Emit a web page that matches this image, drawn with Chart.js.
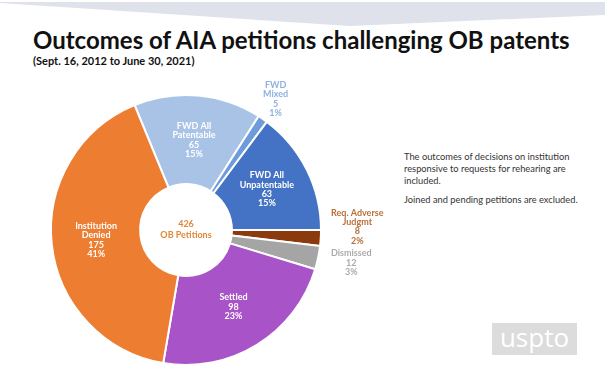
<!DOCTYPE html>
<html>
<head>
<meta charset="utf-8">
<script src="https://cdn.jsdelivr.net/npm/chart.js@4/dist/chart.umd.min.js"></script>
<style>
  html, body { margin: 0; padding: 0; background: #ffffff; }
  #wrap { position: relative; width: 605px; height: 368px; overflow: hidden; background: #fff; }
  #band { position: absolute; left: 0; top: 0; width: 605px; height: 30px; background: #dfe2ea;
          clip-path: polygon(0 2px, 605px 2px, 605px 15px, 350px 26px, 0 3px); }
  #title { position: absolute; left: 33px; top: 25px; font-family: Lato, "Open Sans", sans-serif; font-weight: 700;
           font-size: 24px; color: #111; white-space: nowrap; }
  #subtitle { position: absolute; left: 33px; top: 54px; font-family: Lato, "Open Sans", sans-serif; font-weight: 700;
              font-size: 11px; color: #111; white-space: nowrap; }
  #note { position: absolute; left: 404px; top: 151px; width: 195px; font-family: Lato, "Open Sans", sans-serif;
          font-size: 9.3px; line-height: 12px; color: #333; }
  #note p { margin: 0 0 7px 0; }
  #logo { position: absolute; left: 492px; top: 323px; width: 85px; height: 32px; background: #dcdcdc;
          color: #fff; font-family: "Open Sans", sans-serif; font-size: 26px; line-height: 29px; text-align: center; }
  #chartBox { position: absolute; left: 0; top: 0; width: 605px; height: 368px; }
</style>
</head>
<body>
<div id="wrap">
  <div id="band"></div>
  <div id="title">Outcomes of AIA petitions challenging OB patents</div>
  <div id="subtitle">(Sept. 16, 2012 to June 30, 2021)</div>
  <div id="note">
    <p>The outcomes of decisions on institution responsive to requests for rehearing are included.</p>
    <p>Joined and pending petitions are excluded.</p>
  </div>
  <div id="logo">uspto</div>
  <div id="chartBox"><canvas id="c" width="605" height="368"></canvas></div>
</div>
<script>
// ---- data ----
const categories = ['FWD All Patentable', 'FWD Mixed', 'FWD All Unpatentable', 'Req. Adverse Judgmt', 'Dismissed', 'Settled', 'Institution Denied'];
const labelLines = [['FWD All', 'Patentable'], ['FWD', 'Mixed'], ['FWD All', 'Unpatentable'], ['Req. Adverse', 'Judgmt'], ['Dismissed'], ['Settled'], ['Institution', 'Denied']];
const counts = [65, 5, 63, 8, 12, 98, 175];
const centerLabel = 'OB Petitions';

// ---- styles ----
const sliceColors = ['#a9c3e7', '#6e9bdb', '#4472c4', '#8b3a0e', '#a5a5a5', '#a854c8', '#ed7d31'];
const labelColors = ['#ffffff', '#8fb0e0', '#ffffff', '#b8703a', '#ababab', '#ffffff', '#ffffff'];
const labelOutside = [false, true, false, true, true, false, false];

const total = counts.reduce((a, b) => a + b, 0);
const startOffset = counts.slice(0, 3).reduce((a, b) => a + b, 0);
const rotationDeg = 90 - startOffset / total * 360;

const LABEL_FONT = 'bold 9px Lato, "Open Sans", sans-serif';
const LINE_H = 9.4;

const labelPlugin = {
  id: 'sliceLabels',
  afterDatasetsDraw(chart) {
    const ctx = chart.ctx;
    const meta = chart.getDatasetMeta(0);
    ctx.save();
    ctx.font = LABEL_FONT;
    ctx.textAlign = 'center';
    ctx.textBaseline = 'middle';
    const boxes = [];
    let cxC = 0, cyC = 0;
    meta.data.forEach((arc, i) => {
      const p = arc.getProps(['x', 'y', 'startAngle', 'endAngle', 'innerRadius', 'outerRadius'], true);
      cxC = p.x; cyC = p.y;
      const pct = Math.round(counts[i] / total * 100) + '%';
      const lines = [...labelLines[i], String(counts[i]), pct];
      const w = Math.max(...lines.map(t => ctx.measureText(t).width));
      const h = lines.length * LINE_H;
      const mid = (p.startAngle + p.endAngle) / 2;
      const c = Math.cos(mid), s = Math.sin(mid);
      let cx, cy;
      if (!labelOutside[i]) {
        const r = (p.innerRadius + p.outerRadius) / 2;
        cx = p.x + c * r; cy = p.y + s * r;
      } else {
        const r = p.outerRadius + 10;
        if (c > 0.9) {
          cx = p.x + r + w / 2;
          cy = p.y + s * r + s * h / 2;
        } else {
          cx = p.x + c * r + c * w / 2;
          cy = p.y + s * r + s * h / 2 + 4;
        }
      }
      boxes.push({ i, lines, cx, cy, w, h, out: labelOutside[i], right: c > 0.9 });
    });
    // resolve overlap on right side outside labels
    const rightBoxes = boxes.filter(b => b.out && b.right).sort((a, b) => a.cy - b.cy);
    for (let k = rightBoxes.length - 2; k >= 0; k--) {
      const a = rightBoxes[k], b = rightBoxes[k + 1];
      const minD = a.h / 2 + b.h / 2 + 3;
      if (b.cy - a.cy < minD) a.cy = b.cy - minD;
    }
    boxes.forEach(b => {
      ctx.fillStyle = labelColors[b.i];
      b.lines.forEach((t, j) => {
        ctx.fillText(t, b.cx, b.cy - b.h / 2 + LINE_H * (j + 0.5));
      });
    });
    // center text
    ctx.fillStyle = '#e0883a';
    ctx.fillText(String(total), cxC, cyC - LINE_H / 2 - 1);
    ctx.fillText(centerLabel, cxC, cyC + LINE_H / 2);
    ctx.restore();
  }
};

new Chart(document.getElementById('c'), {
  type: 'doughnut',
  data: {
    labels: categories,
    datasets: [{
      data: counts,
      backgroundColor: sliceColors,
      borderColor: '#ffffff',
      borderWidth: 2
    }]
  },
  options: {
    responsive: false,
    animation: false,
    rotation: rotationDeg,
    cutout: '34%',
    layout: { padding: { left: 50, top: 94, right: 283, bottom: 2 } },
    plugins: { legend: { display: false }, tooltip: { enabled: false }, title: { display: false } }
  },
  plugins: [labelPlugin]
});
</script>
</body>
</html>
